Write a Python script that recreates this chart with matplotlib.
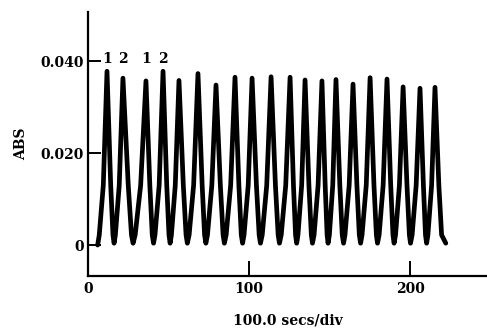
import matplotlib
matplotlib.use('Agg')
import matplotlib.pyplot as plt
import numpy as np

# peak maxima (time in s, absorbance)
peak_t = [11.8, 21.7, 36.0, 46.6, 56.5, 68.3, 79.5, 91.3, 101.9, 113.7,
          125.5, 134.8, 145.3, 154.0, 164.6, 175.2, 185.7, 195.7, 206.2, 215.5]
peak_abs = [0.0378, 0.0363, 0.0357, 0.0378, 0.0358, 0.0373, 0.0348, 0.0365, 0.0363, 0.0366,
            0.0365, 0.0359, 0.0357, 0.0360, 0.0350, 0.0364, 0.0361, 0.0344, 0.0341, 0.0343]

# falling side of each peak: crossing 0.013 and 0.0022
fall_hi_t = [14.1, 25.0, 38.4, 48.9, 59.2, 70.9, 82.2, 93.7, 104.6, 116.4,
             127.6, 137.2, 147.3, 156.4, 167.0, 177.6, 188.0, 198.1, 208.3, 217.9]
fall_lo_t = [15.5, 27.0, 39.9, 50.3, 60.9, 72.4, 83.9, 95.2, 106.3, 118.1,
             128.9, 138.7, 148.5, 157.9, 168.5, 179.1, 189.4, 199.6, 209.6, 219.6]
# minima between peaks
trough_t = [16.2, 28.0, 40.7, 51.0, 61.7, 73.2, 84.7, 96.0, 107.1, 118.9,
            129.6, 139.4, 149.1, 158.7, 169.3, 179.8, 190.1, 200.3, 210.3]
trough_abs = [0.0004, 0.0004, 0.0004, 0.0004, 0.0004, 0.0004, 0.0004, 0.0004, 0.0004, 0.0004,
              0.0004, 0.0004, 0.0004, 0.0004, 0.0004, 0.0004, 0.0004, 0.0004, 0.0004]
# rising side of each peak: crossing 0.0022 and 0.013
rise_lo_t = [7.0, 17.0, 29.3, 41.6, 51.8, 62.8, 74.2, 85.8, 96.9, 108.2,
             120.0, 130.4, 140.4, 149.9, 159.6, 170.2, 180.8, 191.0, 201.3, 211.1]
rise_hi_t = [9.5, 19.4, 32.7, 44.2, 54.2, 65.6, 76.9, 88.6, 99.5, 111.0,
             122.8, 132.7, 142.9, 152.0, 162.2, 172.8, 183.3, 193.4, 203.8, 213.4]
hi_abs = 0.013
lo_abs = 0.0022

# baseline before the first injection and end of the trace
start_t, start_abs = 6.0, 0.0
end_t, end_abs = 222.2, 0.0004

peak_marks = ['1', '2', '1', '2']

t = [start_t]
a = [start_abs]
for i in range(len(peak_t)):
    t += [rise_lo_t[i], rise_hi_t[i], peak_t[i], fall_hi_t[i], fall_lo_t[i]]
    a += [lo_abs, hi_abs, peak_abs[i], hi_abs, lo_abs]
    if i < len(trough_t):
        t.append(trough_t[i])
        a.append(trough_abs[i])
t.append(end_t)
a.append(end_abs)

font = {'family': 'DejaVu Serif', 'weight': 'bold', 'size': 10}

fig = plt.figure(figsize=(4.87, 3.29), dpi=100)
ax = fig.add_axes([0.1807, 0.161, 0.8193, 0.802])
ax.plot(t, a, color='black', linewidth=3.4, solid_joinstyle='round',
        solid_capstyle='round')

for i, m in enumerate(peak_marks):
    ax.text(peak_t[i], 0.0405, m, ha='center', va='center', fontdict=font)

ax.set_xlim(0, 247.8)
ax.set_ylim(-0.00674, 0.05065)
ax.spines['top'].set_visible(False)
ax.spines['right'].set_visible(False)
ax.spines['left'].set_linewidth(1.6)
ax.spines['bottom'].set_linewidth(1.6)

ax.set_xticks([0, 100, 200])
ax.set_xticklabels(['0', '100', '200'], fontdict=font)
ax.set_yticks([0, 0.020, 0.040])
ax.set_yticklabels(['0', '0.020', '0.040'], fontdict=font)
ax.tick_params(axis='y', direction='in', length=9.5, width=1.4, pad=3)
ax.tick_params(axis='x', direction='in', length=10.5, width=1.4, pad=4)

ax.set_xlabel('100.0 secs/div', fontdict=font, labelpad=13)
ax.set_ylabel('ABS', fontdict=font, labelpad=9)

plt.savefig('out.png', dpi=100)
